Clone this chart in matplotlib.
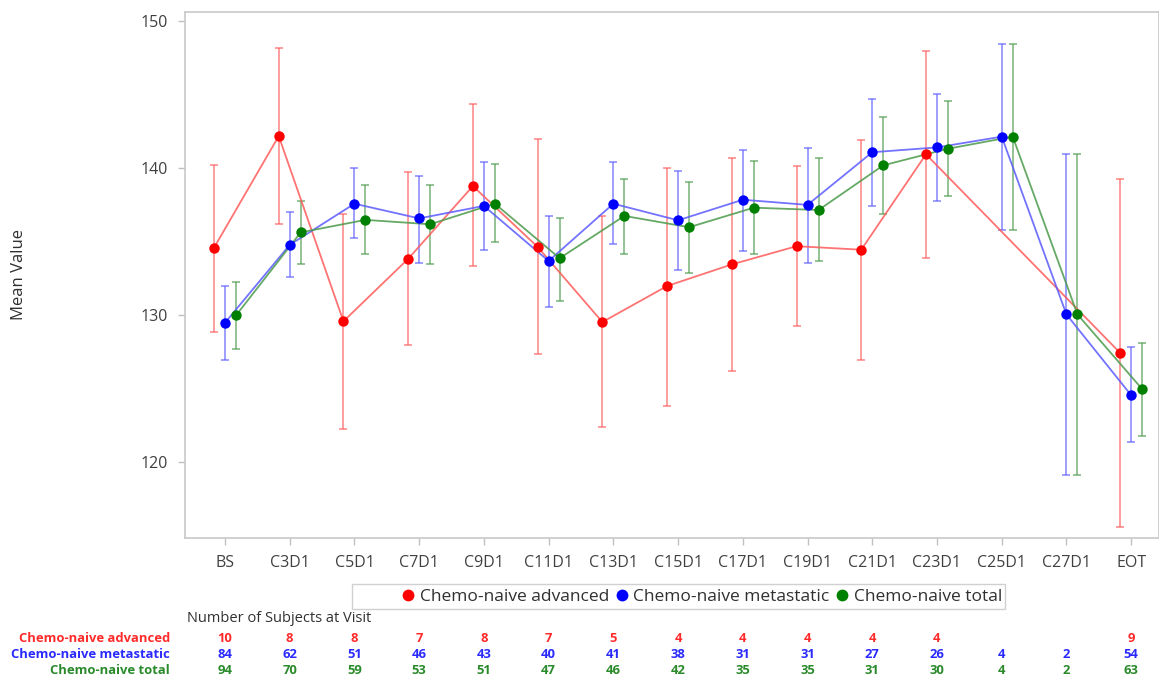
import numpy as np
import matplotlib
matplotlib.use('Agg')
import matplotlib.pyplot as plt
from matplotlib.transforms import blended_transform_factory
from matplotlib.lines import Line2D
from matplotlib.patches import Rectangle

plt.rcParams['font.family'] = ['Open Sans', 'DejaVu Sans']

visits = ['BS', 'C3D1', 'C5D1', 'C7D1', 'C9D1', 'C11D1', 'C13D1', 'C15D1',
          'C17D1', 'C19D1', 'C21D1', 'C23D1', 'C25D1', 'C27D1', 'EOT']

nan = np.nan
adv_mean = [134.6, 142.2, 129.6, 133.85, 138.8, 134.66, 129.55, 132.0, 133.47, 134.71, 134.47, 140.96, nan, nan, 127.45]
adv_upper = [140.26, 148.2, 136.9, 139.75, 144.36, 141.97, 136.75, 140.05, 140.68, 140.16, 141.92, 147.99, nan, nan, 139.28]
adv_lower = [128.85, 136.2, 122.3, 127.97, 133.35, 127.38, 122.42, 123.86, 126.23, 129.27, 127.0, 133.94, nan, nan, 115.62]

met_mean = [129.5, 134.8, 137.6, 136.6, 137.45, 133.7, 137.6, 136.47, 137.87, 137.52, 141.1, 141.43, 142.16, 130.07, 124.57]
met_upper = [132.0, 137.05, 140.0, 139.5, 140.45, 136.75, 140.45, 139.8, 141.27, 141.38, 144.7, 145.08, 148.48, 140.96, 127.85]
met_lower = [127.0, 132.6, 135.25, 133.6, 134.47, 130.6, 134.87, 133.07, 134.36, 133.6, 137.45, 137.75, 135.81, 119.13, 121.4]

tot_mean = [130.0, 135.65, 136.5, 136.2, 137.6, 133.89, 136.77, 136.0, 137.33, 137.17, 140.21, 141.34, 142.16, 130.07, 124.99]
tot_upper = [132.3, 137.8, 138.85, 138.85, 140.33, 136.63, 139.3, 139.09, 140.5, 140.68, 143.49, 144.59, 148.48, 140.96, 128.15]
tot_lower = [127.75, 133.5, 134.2, 133.5, 135.0, 131.0, 134.17, 132.88, 134.17, 133.7, 136.93, 138.1, 135.81, 119.13, 121.78]

adv_n = [10, 8, 8, 7, 8, 7, 5, 4, 4, 4, 4, 4, None, None, 9]
met_n = [84, 62, 51, 46, 43, 40, 41, 38, 31, 31, 27, 26, 4, 2, 54]
tot_n = [94, 70, 59, 53, 51, 47, 46, 42, 35, 35, 31, 30, 4, 2, 63]

groups = ['Chemo-naive advanced', 'Chemo-naive metastatic', 'Chemo-naive total']
marker_colors = ['#ff0000', '#0000ff', '#008000']
line_colors = ['#ff5a5a', '#5a5aff', '#4a9a4a']
text_colors = ['#ff2a2a', '#2a2aff', '#2a8a2a']
offsets = [-0.17, 0.0, 0.17]

fig = plt.figure(figsize=(11.59, 6.78), dpi=100)
ax = fig.add_axes([185 / 1159, 1 - 538 / 678, 1 - 185 / 1159, (538 - 12) / 678])

x = np.arange(len(visits))
series = [(adv_mean, adv_lower, adv_upper), (met_mean, met_lower, met_upper), (tot_mean, tot_lower, tot_upper)]

for i, (m, lo, hi) in enumerate(series):
    m = np.array(m, dtype=float)
    lo = np.array(lo, dtype=float)
    hi = np.array(hi, dtype=float)
    ok = ~np.isnan(m)
    xs = x[ok] + offsets[i]
    yerr = [m[ok] - lo[ok], hi[ok] - m[ok]]
    ax.errorbar(xs, m[ok], yerr=yerr, fmt='none', ecolor=line_colors[i],
                elinewidth=1.1, capsize=3, capthick=1.1, alpha=0.75, zorder=2)
    ax.plot(xs, m[ok], color=line_colors[i], lw=1.3, alpha=0.85, zorder=3)
    ax.plot(xs, m[ok], 'o', color=marker_colors[i], ms=7.5, mec='none', zorder=4)

ax.set_xlim(-0.618, 14.43)
ax.set_ylim(114.86, 150.64)
ax.set_xticks(x)
ax.set_xticklabels(visits)
ax.set_yticks([120, 130, 140, 150])
ax.set_ylabel('Mean Value', fontsize=12, color='#303030')
ax.yaxis.set_label_coords(-0.162, 0.5)
ax.tick_params(colors='#c0c0c0', labelcolor='#404040', labelsize=11.5, length=5, width=1, pad=7)
for s in ax.spines.values():
    s.set_color('#c8c8c8')
    s.set_linewidth(1.2)

# legend box
fig.patches.append(Rectangle((352 / 1159, 1 - 609 / 678), (1005 - 352) / 1159, 25 / 678,
                             transform=fig.transFigure, fill=False, ec='#d0d0d0', lw=1))
handles = [Line2D([], [], marker='o', ls='none', color=c, ms=8.5, mec='none') for c in marker_colors]
fig.legend(handles, groups, loc='center', bbox_to_anchor=(700 / 1159, 1 - 597 / 678), ncol=3,
           frameon=False, fontsize=12.5, handletextpad=0.05, handlelength=1.2,
           columnspacing=0.15, labelcolor='#303030')

# subject count table
tr = blended_transform_factory(ax.transData, fig.transFigure)
fig.text(187 / 1159, 1 - 619 / 678, 'Number of Subjects at Visit', fontsize=10.5, color='#303030', va='center')
rows_y = [638, 654, 670]
for counts, label, col, yy in zip([adv_n, met_n, tot_n], groups, text_colors, rows_y):
    fig.text(170 / 1159, 1 - yy / 678, label, ha='right', va='center', fontsize=9.4,
             fontweight='bold', color=col)
    for xi, n in zip(x, counts):
        if n is not None:
            ax.text(xi, 1 - yy / 678, str(n), transform=tr, ha='center', va='center',
                    fontsize=9.4, fontweight='bold', color=col)

fig.savefig('out.png', dpi=100)
